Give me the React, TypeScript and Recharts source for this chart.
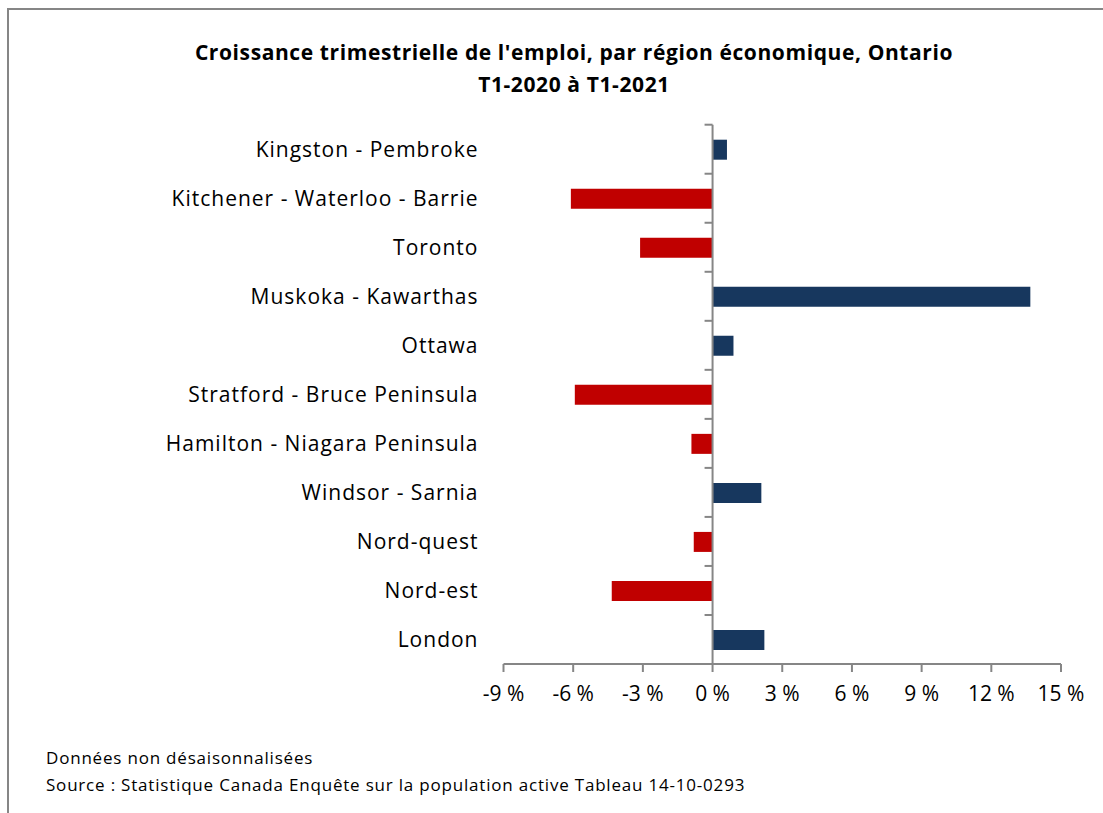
import { BarChart, Bar, XAxis, YAxis, Cell, ReferenceLine } from "recharts";

const regions = [
	"Kingston - Pembroke",
	"Kitchener - Waterloo - Barrie",
	"Toronto",
	"Muskoka - Kawarthas",
	"Ottawa",
	"Stratford - Bruce Peninsula",
	"Hamilton - Niagara Peninsula",
	"Windsor - Sarnia",
	"Nord-quest",
	"Nord-est",
	"London",
];
const growth = [0.62, -6.1, -3.12, 13.68, 0.9, -5.93, -0.91, 2.1, -0.81, -4.34, 2.23];
const xTicks = [-9, -6, -3, 0, 3, 6, 9, 12, 15];

const data = regions.map((name, i) => ({ name, value: growth[i] }));

const POS_COLOR = "#17375E";
const NEG_COLOR = "#C00000";
const AXIS_COLOR = "#868686";
const FONT = "'Open Sans', Lato, sans-serif";

// vertical axis drawn at 0 with tick marks between categories
const ZeroAxis = (props: any) => {
	const { x1, y1, x2, y2 } = props;
	const top = Math.min(y1, y2);
	const bottom = Math.max(y1, y2);
	const step = (bottom - top) / regions.length;
	const marks = [];
	for (let i = 0; i <= regions.length; i++) {
		const y = top + i * step;
		marks.push(
			<line key={i} x1={x1 - 8} x2={x1} y1={y} y2={y} stroke={AXIS_COLOR} strokeWidth={2} />,
		);
	}
	return (
		<g>
			<line x1={x1} x2={x2} y1={y1} y2={y2} stroke={AXIS_COLOR} strokeWidth={2} />
			{marks}
		</g>
	);
};

export default function App() {
	return (
		<div
			style={{
				position: "absolute",
				left: 0,
				top: 0,
				width: 1103,
				height: 813,
				background: "#fff",
				fontFamily: FONT,
				color: "#000",
			}}>
			<div
				style={{
					position: "absolute",
					left: 7,
					top: 8,
					right: 0,
					bottom: 0,
					borderTop: `2px solid ${AXIS_COLOR}`,
					borderLeft: `2px solid ${AXIS_COLOR}`,
				}}
			/>
			<div
				style={{
					position: "absolute",
					left: 0,
					top: 36,
					width: 1148,
					textAlign: "center",
					fontWeight: "bold",
					fontSize: 21,
					letterSpacing: 0.6,
					lineHeight: "32px",
				}}>
				Croissance trimestrielle de l'emploi, par région économique, Ontario
				<br />
				T1-2020 à T1-2021
			</div>
			<BarChart
				width={1103}
				height={813}
				data={data}
				layout='vertical'
				barSize={20}
				margin={{ top: 124.7, right: 42, bottom: 109, left: 23.5 }}
				style={{ position: "absolute", left: 0, top: 0 }}>
				<XAxis
					type='number'
					domain={[-9, 15]}
					ticks={xTicks}
					height={40}
					tickFormatter={v => `${v}\u00a0%`}
					stroke={AXIS_COLOR}
					strokeWidth={2}
					tickSize={8}
					tickMargin={14}
					tick={{ fill: "#000", fontSize: 21, fontFamily: FONT }}
				/>
				<YAxis
					type='category'
					dataKey='name'
					width={480}
					axisLine={false}
					tickLine={false}
					tickSize={0}
					tickMargin={25}
					interval={0}
					tick={{ fill: "#000", fontSize: 21, fontFamily: FONT, letterSpacing: 1 }}
				/>
				<ReferenceLine x={0} shape={ZeroAxis} />
				<Bar dataKey='value' isAnimationActive={false}>
					{data.map((d, i) => (
						<Cell key={`cell-${i}`} fill={d.value < 0 ? NEG_COLOR : POS_COLOR} />
					))}
				</Bar>
			</BarChart>
			<div
				style={{
					position: "absolute",
					left: 46,
					top: 744,
					fontSize: 17,
					letterSpacing: 0.8,
					lineHeight: "27px",
				}}>
				Données non désaisonnalisées
				<br />
				Source : Statistique Canada Enquête sur la population active Tableau 14-10-0293
			</div>
		</div>
	);
}
